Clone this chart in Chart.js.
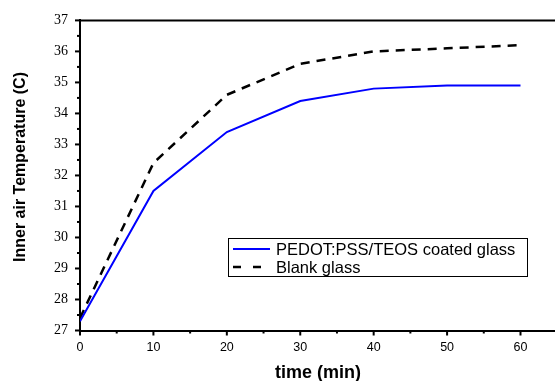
<!DOCTYPE html>
<html><head><meta charset="utf-8">
<script src="https://cdn.jsdelivr.net/npm/chart.js@4/dist/chart.umd.min.js"></script>
<style>html,body{margin:0;padding:0;background:#fff}#wrap{width:555px;height:381px}</style>
</head><body><div id="wrap"><canvas id="c" width="555" height="381"></canvas></div>
<script>
const times = [0, 10, 20, 30, 40, 50, 60];
const coated = [27.3, 31.5, 33.4, 34.4, 34.8, 34.9, 34.9];
const blank = [27.4, 32.4, 34.6, 35.6, 36.0, 36.1, 36.2];
const seriesLabels = ['PEDOT:PSS/TEOS coated glass', 'Blank glass'];
const xTitle = 'time (min)';
const yTitle = 'Inner air Temperature (C)';

const tickPlugin = {
  id: 'customTicks',
  afterDraw(chart) {
    const ctx = chart.ctx, xs = chart.scales.x, ys = chart.scales.y, a = chart.chartArea;
    ctx.save();
    ctx.strokeStyle = '#000';
    ctx.lineWidth = 2;
    ctx.beginPath(); ctx.moveTo(a.left - 1, a.top); ctx.lineTo(a.right, a.top); ctx.stroke();
    for (let v = 0; v <= 60; v += 5) {
      const px = xs.getPixelForValue(v);
      const len = v % 10 === 0 ? 5 : 3;
      ctx.beginPath(); ctx.moveTo(px, a.bottom); ctx.lineTo(px, a.bottom + len); ctx.stroke();
    }
    for (let v = 27; v <= 37; v += 0.5) {
      const py = ys.getPixelForValue(v);
      const len = Number.isInteger(v) ? 5 : 3;
      ctx.beginPath(); ctx.moveTo(a.left, py); ctx.lineTo(a.left - len, py); ctx.stroke();
    }
    ctx.fillStyle = '#000';
    ctx.textAlign = 'center';
    ctx.textBaseline = 'middle';
    ctx.font = 'bold 18px "Liberation Sans", Arial, sans-serif';
    ctx.fillText(xTitle, 318, 373);
    ctx.save();
    ctx.translate(21, 167);
    ctx.rotate(-Math.PI / 2);
    ctx.font = 'bold 16px "Liberation Sans", Arial, sans-serif';
    ctx.fillText(yTitle, 0, 0);
    ctx.restore();
    // legend
    const lx = 228, ly = 238, lw = 299, lh = 38;
    ctx.lineWidth = 1;
    ctx.fillStyle = '#fff';
    ctx.fillRect(lx, ly, lw, lh);
    ctx.strokeStyle = '#000';
    ctx.strokeRect(lx + 0.5, ly + 0.5, lw, lh);
    chart.data.datasets.forEach((ds, i) => {
      const y = ly + 11 + i * 18;
      ctx.strokeStyle = ds.borderColor;
      ctx.lineWidth = ds.borderWidth;
      ctx.setLineDash(ds.borderDash ? [8, 12] : []);
      ctx.beginPath(); ctx.moveTo(233, y); ctx.lineTo(270, y); ctx.stroke();
      ctx.setLineDash([]);
      ctx.fillStyle = '#000';
      ctx.font = '16.5px "Liberation Sans", Arial, sans-serif';
      ctx.textBaseline = 'middle';
      ctx.textAlign = 'left';
      ctx.fillText(ds.label, 276, y + 1);
    });
    ctx.restore();
  }
};

new Chart(document.getElementById('c'), {
  type: 'line',
  data: {
    datasets: [
      { label: seriesLabels[0], data: times.map((t, i) => ({x: t, y: coated[i]})), borderColor: '#0000ff', borderWidth: 2, pointRadius: 0, tension: 0, fill: false },
      { label: seriesLabels[1], data: times.map((t, i) => ({x: t, y: blank[i]})), borderColor: '#000', borderWidth: 2.5, borderDash: [9, 7], pointRadius: 0, tension: 0, fill: false }
    ]
  },
  options: {
    responsive: false, animation: false,
    layout: { padding: { top: 20, right: 0, left: 0, bottom: 0 } },
    plugins: { legend: { display: false }, tooltip: { enabled: false } },
    scales: {
      x: {
        type: 'linear', min: 0, max: 64.7,
        afterFit(s) { s.height = 50.5; },
        afterBuildTicks(s) { s.ticks = [0,10,20,30,40,50,60].map(v => ({value: v})); },
        grid: { display: false, drawTicks: false },
        border: { display: true, color: '#000', width: 2 },
        ticks: { color: '#000', padding: 10, font: { family: '"Liberation Sans", Arial, sans-serif', size: 12.5 }, maxRotation: 0 },
        title: { display: false }
      },
      y: {
        type: 'linear', min: 27, max: 37,
        afterFit(s) { s.width = 80; },
        afterBuildTicks(s) { const t = []; for (let v = 27; v <= 37; v++) t.push({value: v}); s.ticks = t; },
        grid: { display: false, drawTicks: false },
        border: { display: true, color: '#000', width: 2 },
        ticks: { color: '#000', padding: 12, font: { family: '"Liberation Serif", "Times New Roman", serif', size: 14 } },
        title: { display: false }
      }
    }
  },
  plugins: [tickPlugin]
});
</script></body></html>
